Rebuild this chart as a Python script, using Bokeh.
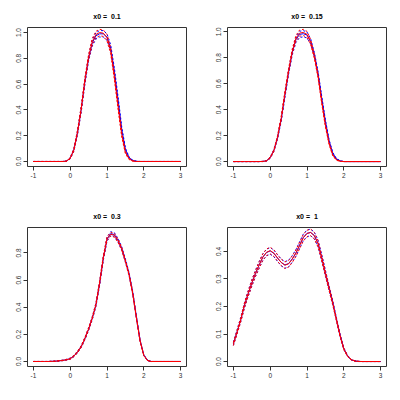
from bokeh.plotting import figure
from bokeh.layouts import gridplot
from bokeh.models import Range1d, FixedTicker, PrintfTickFormatter
from bokeh.embed import file_html
from bokeh.resources import INLINE

# common x grid
x_grid = [-1.0, -0.9, -0.8, -0.7, -0.6, -0.5, -0.4, -0.3, -0.2, -0.1,
          0.0, 0.1, 0.2, 0.3, 0.4, 0.5, 0.6, 0.7, 0.8, 0.9,
          1.0, 1.1, 1.2, 1.3, 1.4, 1.5, 1.6, 1.7, 1.8, 1.9,
          2.0, 2.1, 2.2, 2.3, 2.4, 2.5, 2.6, 2.7, 2.8, 2.9, 3.0]
x_ticks = [-1, 0, 1, 2, 3]
titles = ["x0 =  0.1", "x0 =  0.15", "x0 =  0.3", "x0 =  1"]

# panel 1 : x0 = 0.1
p1_blue    = [0]*9 + [0.003, 0.025, 0.09, 0.225, 0.405, 0.62, 0.80, 0.92, 0.975, 0.99, 0.99, 0.965, 0.88, 0.70, 0.48, 0.25, 0.095, 0.03, 0.008, 0.001] + [0]*12
p1_blue_lo = [0]*9 + [0.002, 0.02, 0.08, 0.21, 0.385, 0.60, 0.78, 0.895, 0.95, 0.965, 0.965, 0.94, 0.855, 0.675, 0.455, 0.23, 0.085, 0.025, 0.006, 0.0] + [0]*12
p1_blue_hi = [0]*9 + [0.004, 0.03, 0.10, 0.24, 0.425, 0.64, 0.82, 0.945, 1.0, 1.015, 1.015, 0.99, 0.905, 0.725, 0.505, 0.27, 0.105, 0.035, 0.01, 0.002] + [0]*12
p1_red     = [0]*9 + [0.003, 0.025, 0.09, 0.23, 0.41, 0.63, 0.81, 0.93, 0.985, 1.0, 0.995, 0.96, 0.86, 0.66, 0.43, 0.21, 0.07, 0.02, 0.004] + [0]*13
p1_red_lo  = [0]*9 + [0.002, 0.02, 0.08, 0.215, 0.39, 0.61, 0.79, 0.905, 0.96, 0.975, 0.97, 0.935, 0.835, 0.635, 0.405, 0.19, 0.06, 0.015, 0.002] + [0]*13
p1_red_hi  = [0]*9 + [0.004, 0.03, 0.10, 0.245, 0.43, 0.65, 0.83, 0.955, 1.01, 1.025, 1.02, 0.985, 0.885, 0.685, 0.455, 0.23, 0.08, 0.025, 0.006] + [0]*13

# panel 2 : x0 = 0.15
p2_blue    = [0]*8 + [0.001, 0.006, 0.03, 0.085, 0.185, 0.325, 0.51, 0.69, 0.84, 0.94, 0.98, 0.985, 0.975, 0.925, 0.825, 0.68, 0.49, 0.31, 0.16, 0.065, 0.02, 0.005] + [0]*11
p2_blue_lo = [0]*8 + [0.0, 0.004, 0.025, 0.078, 0.175, 0.31, 0.493, 0.673, 0.822, 0.918, 0.956, 0.961, 0.952, 0.905, 0.808, 0.665, 0.476, 0.298, 0.151, 0.059, 0.016, 0.003] + [0]*11
p2_blue_hi = [0]*8 + [0.002, 0.008, 0.035, 0.092, 0.195, 0.34, 0.527, 0.707, 0.858, 0.962, 1.004, 1.009, 0.998, 0.945, 0.842, 0.695, 0.504, 0.322, 0.169, 0.071, 0.024, 0.007] + [0]*11
p2_red     = [0]*8 + [0.001, 0.006, 0.03, 0.085, 0.19, 0.335, 0.525, 0.70, 0.85, 0.95, 0.99, 0.995, 0.98, 0.92, 0.81, 0.66, 0.46, 0.28, 0.14, 0.05, 0.013, 0.003] + [0]*11
p2_red_lo  = [0]*8 + [0.0, 0.004, 0.025, 0.078, 0.18, 0.32, 0.508, 0.683, 0.832, 0.928, 0.966, 0.971, 0.957, 0.90, 0.793, 0.645, 0.446, 0.268, 0.131, 0.044, 0.01, 0.001] + [0]*11
p2_red_hi  = [0]*8 + [0.002, 0.008, 0.035, 0.092, 0.20, 0.35, 0.542, 0.717, 0.868, 0.972, 1.014, 1.019, 1.003, 0.94, 0.827, 0.675, 0.474, 0.292, 0.149, 0.056, 0.016, 0.005] + [0]*11

# panel 3 : x0 = 0.3
p3_blue    = [0]*5 + [0.001, 0.002, 0.005, 0.008, 0.013, 0.021, 0.04, 0.07, 0.11, 0.168, 0.238, 0.318, 0.418, 0.575, 0.76, 0.90, 0.942, 0.935, 0.893, 0.833, 0.745, 0.645, 0.505, 0.325, 0.153, 0.047, 0.008] + [0]*9
p3_blue_lo = [0]*5 + [0.0, 0.001, 0.003, 0.006, 0.01, 0.017, 0.035, 0.064, 0.103, 0.16, 0.229, 0.308, 0.407, 0.562, 0.746, 0.886, 0.928, 0.921, 0.88, 0.821, 0.734, 0.635, 0.496, 0.318, 0.148, 0.044, 0.006] + [0]*9
p3_blue_hi = [0]*5 + [0.002, 0.003, 0.007, 0.01, 0.016, 0.025, 0.045, 0.076, 0.117, 0.176, 0.247, 0.328, 0.429, 0.588, 0.774, 0.914, 0.956, 0.949, 0.906, 0.845, 0.756, 0.655, 0.514, 0.332, 0.158, 0.05, 0.01] + [0]*9
p3_red     = [0]*5 + [0.001, 0.002, 0.005, 0.008, 0.013, 0.02, 0.04, 0.07, 0.11, 0.17, 0.24, 0.32, 0.42, 0.58, 0.765, 0.905, 0.937, 0.93, 0.89, 0.83, 0.74, 0.64, 0.50, 0.32, 0.15, 0.045, 0.007] + [0]*9
p3_red_lo  = [0]*5 + [0.0, 0.001, 0.003, 0.006, 0.01, 0.016, 0.035, 0.064, 0.103, 0.162, 0.231, 0.31, 0.409, 0.567, 0.751, 0.891, 0.923, 0.916, 0.877, 0.818, 0.729, 0.63, 0.491, 0.313, 0.145, 0.042, 0.005] + [0]*9
p3_red_hi  = [0]*5 + [0.002, 0.003, 0.007, 0.01, 0.016, 0.024, 0.045, 0.076, 0.117, 0.178, 0.249, 0.33, 0.431, 0.593, 0.779, 0.919, 0.951, 0.944, 0.903, 0.842, 0.751, 0.65, 0.509, 0.327, 0.155, 0.048, 0.009] + [0]*9

# panel 4 : x0 = 1
p4_blue    = [0.065, 0.108, 0.153, 0.204, 0.246, 0.285, 0.32, 0.351, 0.379, 0.396, 0.402, 0.393, 0.376, 0.36, 0.351, 0.356, 0.373, 0.395, 0.423, 0.451, 0.466, 0.469, 0.458, 0.429, 0.378, 0.322, 0.267, 0.214, 0.154, 0.095, 0.047, 0.021, 0.007, 0.002, 0.0005] + [0]*6
p4_blue_lo = [0.059, 0.101, 0.145, 0.195, 0.236, 0.274, 0.309, 0.339, 0.367, 0.384, 0.39, 0.381, 0.364, 0.348, 0.339, 0.344, 0.361, 0.383, 0.411, 0.439, 0.454, 0.457, 0.446, 0.417, 0.367, 0.312, 0.259, 0.207, 0.149, 0.091, 0.044, 0.019, 0.006, 0.001, 0.0] + [0]*6
p4_blue_hi = [0.071, 0.115, 0.161, 0.213, 0.256, 0.296, 0.331, 0.363, 0.391, 0.408, 0.414, 0.405, 0.388, 0.372, 0.363, 0.368, 0.385, 0.407, 0.435, 0.463, 0.478, 0.481, 0.47, 0.441, 0.389, 0.332, 0.275, 0.221, 0.159, 0.099, 0.05, 0.023, 0.008, 0.003, 0.001] + [0]*6
p4_red     = [0.064, 0.107, 0.152, 0.204, 0.246, 0.285, 0.32, 0.351, 0.38, 0.397, 0.403, 0.394, 0.376, 0.36, 0.35, 0.355, 0.372, 0.394, 0.422, 0.45, 0.465, 0.469, 0.457, 0.428, 0.376, 0.32, 0.265, 0.212, 0.152, 0.093, 0.046, 0.02, 0.007, 0.002, 0.0005] + [0]*6
p4_red_lo  = [0.058, 0.10, 0.144, 0.195, 0.236, 0.274, 0.309, 0.339, 0.368, 0.385, 0.391, 0.382, 0.364, 0.348, 0.338, 0.343, 0.36, 0.382, 0.41, 0.438, 0.453, 0.457, 0.445, 0.416, 0.365, 0.31, 0.257, 0.205, 0.147, 0.089, 0.043, 0.018, 0.006, 0.001, 0.0] + [0]*6
p4_red_hi  = [0.07, 0.114, 0.16, 0.213, 0.256, 0.296, 0.331, 0.363, 0.392, 0.409, 0.415, 0.406, 0.388, 0.372, 0.362, 0.367, 0.384, 0.406, 0.434, 0.462, 0.477, 0.481, 0.469, 0.44, 0.387, 0.33, 0.273, 0.219, 0.157, 0.097, 0.049, 0.022, 0.008, 0.003, 0.001] + [0]*6

y_ticks = [[0.0, 0.2, 0.4, 0.6, 0.8, 1.0],
           [0.0, 0.2, 0.4, 0.6, 0.8, 1.0],
           [0.0, 0.2, 0.4, 0.6, 0.8],
           [0.0, 0.1, 0.2, 0.3, 0.4]]
y_lims = [(-0.039, 1.039), (-0.038, 1.033), (-0.037, 0.987), (-0.018, 0.487)]

series = [
    (p1_blue, p1_blue_lo, p1_blue_hi, p1_red, p1_red_lo, p1_red_hi),
    (p2_blue, p2_blue_lo, p2_blue_hi, p2_red, p2_red_lo, p2_red_hi),
    (p3_blue, p3_blue_lo, p3_blue_hi, p3_red, p3_red_lo, p3_red_hi),
    (p4_blue, p4_blue_lo, p4_blue_hi, p4_red, p4_red_lo, p4_red_hi),
]

FONT = "Liberation Sans"
BLUE = "#0000ff"
RED = "#ff0000"


def make_panel(i):
    p = figure(width=200, height=200, x_range=Range1d(-1.16, 3.16),
               y_range=Range1d(*y_lims[i]), output_backend="svg",
               toolbar_location=None, min_border_left=27, min_border_right=14,
               min_border_top=27, min_border_bottom=34)
    p.grid.visible = False
    p.background_fill_color = "white"
    p.border_fill_color = "white"
    p.outline_line_color = "#333333"
    p.outline_line_width = 1

    # keep the double space of the original title visible in SVG
    p.title.text = titles[i].replace("  ", " \u00a0")
    p.title.align = "center"
    p.title.text_font = FONT
    p.title.text_font_size = "7px"
    p.title.text_font_style = "bold"
    p.title.text_color = "#000000"
    p.title.standoff = 15

    for ax in (p.xaxis[0], p.yaxis[0]):
        ax.axis_line_color = None
        ax.major_tick_out = 4
        ax.major_tick_in = 0
        ax.minor_tick_line_color = None
        ax.major_tick_line_color = "#333333"
        ax.major_label_text_font = FONT
        ax.major_label_text_font_size = "6.5px"
        ax.major_label_text_color = "#333333"
        ax.major_label_standoff = 2
    p.xaxis[0].ticker = FixedTicker(ticks=x_ticks)
    p.xaxis[0].formatter = PrintfTickFormatter(format="%d")
    p.yaxis[0].ticker = FixedTicker(ticks=y_ticks[i])
    p.yaxis[0].formatter = PrintfTickFormatter(format="%.1f")
    p.yaxis[0].major_label_orientation = "vertical"

    b, blo, bhi, r, rlo, rhi = series[i]
    p.line(x_grid, b, line_color=BLUE, line_width=1)
    p.line(x_grid, blo, line_color=BLUE, line_width=1, line_dash="2 2")
    p.line(x_grid, bhi, line_color=BLUE, line_width=1, line_dash="2 2")
    p.line(x_grid, r, line_color=RED, line_width=1)
    p.line(x_grid, rlo, line_color=RED, line_width=1, line_dash="2 2")
    p.line(x_grid, rhi, line_color=RED, line_width=1, line_dash="2 2")
    return p


panels = [make_panel(i) for i in range(4)]
grid = gridplot([[panels[0], panels[1]], [panels[2], panels[3]]], toolbar_location=None)

open("out.html", "w").write(file_html(grid, INLINE))
